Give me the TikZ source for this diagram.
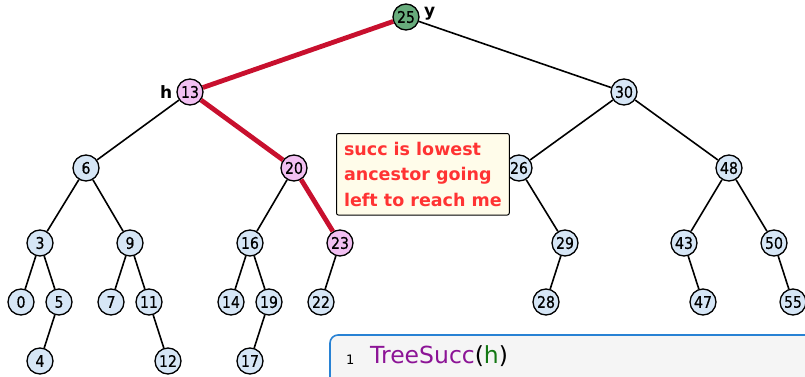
\documentclass[tikz,border=0pt]{standalone}
\usepackage{fontspec}
\setmainfont{DejaVu Sans}
\newfontfamily\keyfont[FakeStretch=0.88, FakeBold=0.6]{DejaVu Sans}
\usetikzlibrary{positioning}

\definecolor{keyblue}{RGB}{214,230,246}
\definecolor{keypink}{RGB}{242,192,242}
\definecolor{keygreen}{RGB}{104,172,124}
\definecolor{pathred}{RGB}{200,16,46}
\definecolor{notered}{RGB}{255,51,51}
\definecolor{notefill}{RGB}{255,252,234}
\definecolor{codeframe}{RGB}{40,130,212}
\definecolor{codefill}{RGB}{245,245,245}
\definecolor{codepurple}{RGB}{140,20,150}
\definecolor{codegreen}{RGB}{20,120,20}

\tikzset{
    key/.style={circle, draw, line width=1.3pt, fill=keyblue, minimum size=26pt,
        inner sep=0pt, font=\keyfont\fontsize{16}{16}\selectfont},
    edge/.style={line width=1.6pt},
    rededge/.style={line width=4.8pt, pathred},
    tag/.style={font=\bfseries\fontsize{17}{17}\selectfont, inner sep=0pt},
    note/.style={draw, line width=1pt, fill=notefill, rounded corners=2pt, align=left,
        text=notered, inner xsep=7.5pt, inner ysep=8.5pt,
        font=\bfseries\fontsize{17.5}{25.5}\selectfont},
    codebox/.style={draw=codeframe, line width=1.6pt, fill=codefill, rounded corners=8pt}
}

\begin{document}
\begin{tikzpicture}[x=1pt, y=-1pt]

    \useasboundingbox (0,0) rectangle (805,377);
    \clip (0,0) rectangle (805,377);

    % keys of the tree
    \foreach \k/\x/\y/\c in {25/406/17/keygreen, 13/190/92/keypink, 30/624/92/keyblue,
            6/86/168/keyblue, 20/294/168/keypink, 26/519/168/keyblue, 48/729/168/keyblue,
            3/40/243/keyblue, 9/130/243/keyblue, 16/250/243/keyblue, 23/340/243/keypink,
            29/565/243/keyblue, 43/684/243/keyblue, 50/774/243/keyblue,
            0/21/302/keyblue, 5/59/302/keyblue, 7/111/302/keyblue, 11/149/302/keyblue,
            14/231/302/keyblue, 19/269/302/keyblue, 22/321/302/keyblue, 28/546/302/keyblue,
            47/703/302/keyblue, 55/793/302/keyblue,
            4/40/361/keyblue, 12/168/361/keyblue, 17/250/361/keyblue} {
        \node[key, fill=\c] (n\k) at (\x,\y) {\k};
    }

    \foreach \a/\b in {25/30, 13/6, 30/26, 30/48, 6/3, 6/9, 20/16, 26/29, 48/43, 48/50,
            3/0, 3/5, 9/7, 9/11, 16/14, 16/19, 23/22, 29/28, 43/47, 50/55,
            5/4, 11/12, 19/17} {
        \draw[edge] (n\a) -- (n\b);
    }

    % path from h up to y
    \foreach \a/\b in {25/13, 13/20, 20/23} {
        \draw[rededge] (n\a) -- (n\b);
    }

    \node[tag, left=4pt of n13] (hname) {h};
    \node[tag, anchor=west] (yname) at (424,14) {y};

    \node[note, anchor=north west] (hint) at (336,133)
        {succ is lowest\\ancestor going\\left to reach me};

    % code
    \draw[codebox] (330,335) rectangle (840,430);
    \node[anchor=base west, inner sep=0pt, font=\fontsize{13}{13}\selectfont] (lineno) at (346,364) {1};
    \node[anchor=base west, inner sep=0pt, font=\fontsize{23.5}{23.5}\selectfont] (line1) at (370,363)
        {\textcolor{codepurple}{TreeSucc}(\textcolor{codegreen}{h})};

\end{tikzpicture}
\end{document}
